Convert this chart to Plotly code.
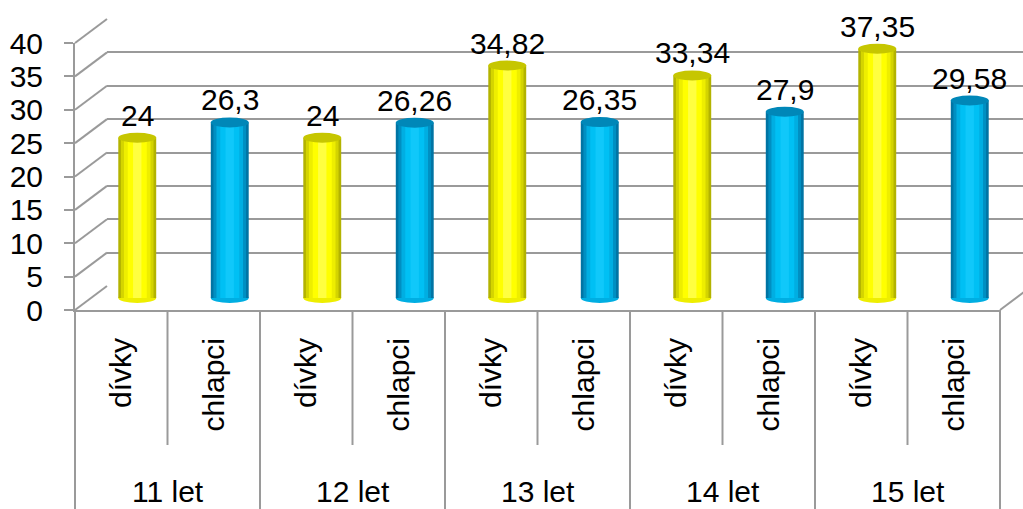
import plotly.graph_objects as go

# ---- data ----
groups = ["11 let", "12 let", "13 let", "14 let", "15 let"]
series_names = ["dívky", "chlapci"]
divky = [24, 24, 34.82, 33.34, 37.35]
chlapci = [26.3, 26.26, 26.35, 27.9, 29.58]
y_ticks = [0, 5, 10, 15, 20, 25, 30, 35, 40]

# ---- styles ----
FONT = "Liberation Sans, Arial, sans-serif"
FS = 30
GRID = "#9a9a9a"
YEL = ["#b3b300", "#d4d400", "#eeee00", "#ffff00", "#ffff40"]
YEL_TOP = "#c6c600"
BLU = ["#0074a4", "#008fc2", "#00aee2", "#00c0f4", "#10c8fa"]
BLU_TOP = "#0087b8"

W, H = 1023, 509
ML, MB = 75, 199
PW, PH = W - ML, H - MB            # paper size in px
FRONT_W, FRONT_H = 925, 267        # front plot area in px
DX, DY = 32, 24                    # depth offset (back wall) in px
YMAX = 40
PXU = FRONT_H / YMAX               # px per y unit
INNER_DIV = 135                    # length of inner divider lines (px)
GROUP_LABEL_Y = 182                # px below floor line

# combined arrays
inner, vals, pal, tops = [], [], [], []
for g, d, c in zip(groups, divky, chlapci):
    inner += series_names
    vals += [d, c]
    pal += [YEL, BLU]
    tops += [YEL_TOP, BLU_TOP]
idx = list(range(len(vals)))
n_per = len(series_names)

fig = go.Figure()

# back wall (gridlines) on x/y
fig.add_trace(go.Scatter(x=[0], y=[0], mode="markers", marker=dict(opacity=0),
                         hoverinfo="skip", showlegend=False, xaxis="x", yaxis="y"))

# cylinders on x2/y2 (middle depth), layered for shading
BW = 0.41
fracs = [1.0, 0.86, 0.7, 0.5, 0.22]
for k, f in enumerate(fracs):
    fig.add_trace(go.Bar(x=idx, y=vals, width=BW * f,
                         marker=dict(color=[p[k] for p in pal], line=dict(width=0)),
                         hoverinfo="skip", showlegend=False, xaxis="x2", yaxis="y2"))

# front axes on x3/y3
fig.add_trace(go.Scatter(x=idx, y=vals, mode="markers",
                         marker=dict(opacity=0), hoverinfo="skip", showlegend=False,
                         xaxis="x3", yaxis="y3"))

shapes = []
E = 5 / PXU  # ellipse half-height in y units
for i, v, p, t in zip(idx, vals, pal, tops):
    shapes.append(dict(type="circle", xref="x2", yref="y2", x0=i - BW / 2, x1=i + BW / 2,
                       y0=-E, y1=E, fillcolor=p[2], line=dict(width=0), layer="between"))
    shapes.append(dict(type="circle", xref="x2", yref="y2", x0=i - BW / 2, x1=i + BW / 2,
                       y0=v - E, y1=v + E, fillcolor=t, line=dict(width=0), layer="above"))

# side wall diagonals and floor edges (paper coords)
def front_pt(xpx, v):
    return xpx / PW, v * PXU / PH

for v in y_ticks:
    x0, y0 = front_pt(0, v)
    x1, y1 = front_pt(DX, v)
    shapes.append(dict(type="line", xref="paper", yref="paper", x0=x0, y0=y0,
                       x1=x1, y1=y1 + DY / PH, line=dict(color=GRID, width=2)))
x0, y0 = front_pt(FRONT_W, 0)
shapes.append(dict(type="line", xref="paper", yref="paper", x0=x0, y0=y0,
                   x1=x0 + DX / PW, y1=y0 + DY / PH, line=dict(color=GRID, width=2)))

# category dividers below the floor
n = len(vals)
for b in range(n + 1):
    xb = (b / n) * FRONT_W / PW
    depth = MB if b % n_per == 0 else INNER_DIV
    shapes.append(dict(type="line", xref="paper", yref="paper", x0=xb, x1=xb,
                       y0=0, y1=-depth / PH, line=dict(color=GRID, width=2)))

annotations = []
for i, v in zip(idx, vals):
    txt = ("%g" % v).replace(".", ",")
    annotations.append(dict(x=i, y=v, xref="x2", yref="y2", text=txt, showarrow=False,
                            yanchor="bottom", yshift=4, font=dict(size=FS, color="black", family=FONT)))
for gi, g in enumerate(groups):
    xc = gi * n_per + (n_per - 1) / 2
    annotations.append(dict(x=xc, y=-GROUP_LABEL_Y / PH, xref="x3", yref="paper", text=g,
                            showarrow=False, yanchor="middle",
                            font=dict(size=FS, color="black", family=FONT)))

fig.update_layout(
    width=W, height=H, autosize=False,
    margin=dict(l=ML, r=0, t=0, b=MB, pad=0, autoexpand=False),
    paper_bgcolor="white", plot_bgcolor="rgba(0,0,0,0)",
    font=dict(family=FONT, size=FS, color="black"),
    showlegend=False, barmode="overlay",
    shapes=shapes, annotations=annotations,
    xaxis=dict(domain=[DX / PW, 1], range=[0, 1], visible=False, automargin=False),
    yaxis=dict(domain=[DY / PH, (DY + FRONT_H) / PH], range=[0, YMAX], tickvals=y_ticks,
               showgrid=True, gridcolor=GRID, gridwidth=2, zeroline=False, automargin=False,
               showticklabels=False, ticks="", showline=False, anchor="x"),
    xaxis2=dict(domain=[DX / 2 / PW, (FRONT_W + DX / 2) / PW], range=[-0.5, n - 0.5],
                visible=False, anchor="y2", automargin=False),
    yaxis2=dict(domain=[0, (DY / 2 + FRONT_H) / PH], range=[-(DY / 2) / PXU, YMAX],
                visible=False, anchor="x2", automargin=False),
    xaxis3=dict(domain=[0, FRONT_W / PW], range=[-0.5, n - 0.5], anchor="y3",
                tickvals=idx, ticktext=inner, showline=True, linecolor=GRID, linewidth=2,
                ticks="", tickangle=-90, automargin=False, ticklabelstandoff=14,
                showgrid=False, zeroline=False, tickfont=dict(size=FS, color="black")),
    yaxis3=dict(domain=[0, FRONT_H / PH], range=[0, YMAX], anchor="x3", tickvals=y_ticks,
                showline=True, linecolor=GRID, linewidth=2, ticks="outside", ticklen=9,
                tickwidth=2, tickcolor=GRID, showgrid=False, zeroline=False, automargin=False,
                ticklabelstandoff=15, tickfont=dict(size=FS, color="black")),
)

fig.write_html("out.html", config={"displayModeBar": False},
               post_script="document.body.style.margin='0';")
